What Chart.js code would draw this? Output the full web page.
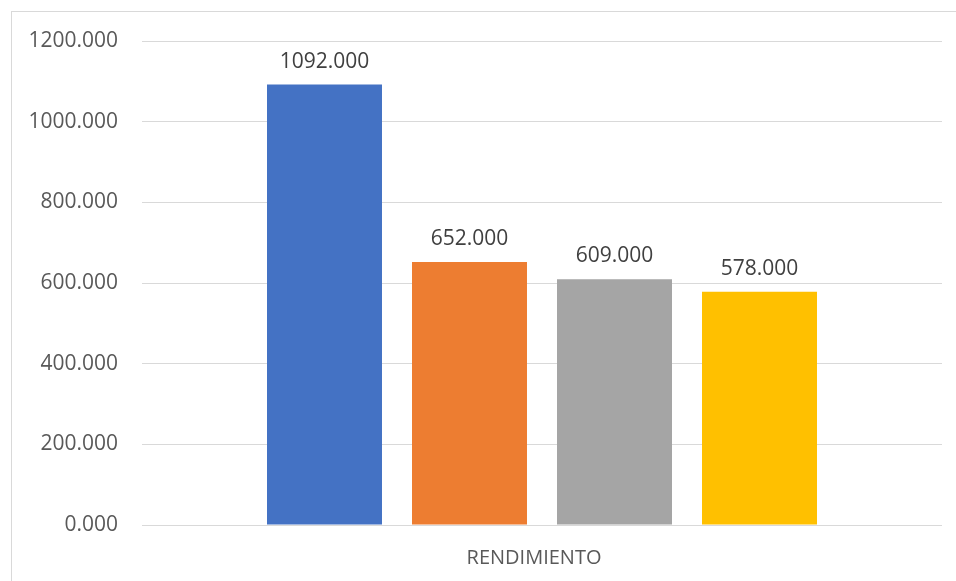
<!DOCTYPE html>
<html>
<head>
<meta charset="utf-8">
<script src="https://cdn.jsdelivr.net/npm/chart.js@4.4.1/dist/chart.umd.min.js"></script>
<style>
    body {
        margin: 0;
        background: #ffffff;
        overflow: hidden;
    }
    .frame {
        position: absolute;
        left: 11px;
        top: 11px;
        width: 980px;
        height: 620px;
        border: 1px solid #d9d9d9;
    }
    #myChart {
        position: absolute;
        left: 0;
        top: 0;
    }
</style>
</head>
<body>
<div class="frame"></div>
<canvas id="myChart" width="956" height="581"></canvas>
<script>
const categories = ["RENDIMIENTO"];
const seriesNames = ["Serie 1", "Serie 2", "Serie 3", "Serie 4"];
const seriesValues = [1092, 652, 609, 578];
const yTicks = [0, 200, 400, 600, 800, 1000, 1200];

const barColors = ['#4472C4', '#ED7D31', '#A5A5A5', '#FFC000'];
const fontName = "'Open Sans', sans-serif";

// value labels above every bar
const valueLabels = {
    id: 'valueLabels',
    afterDatasetsDraw(chart) {
        const ctx = chart.ctx;
        ctx.save();
        ctx.font = "21px " + fontName;
        ctx.fillStyle = '#404040';
        ctx.textAlign = 'center';
        ctx.textBaseline = 'alphabetic';
        chart.data.datasets.forEach((ds, i) => {
            const meta = chart.getDatasetMeta(i);
            meta.data.forEach((bar, j) => {
                ctx.fillText(ds.data[j].toFixed(3), bar.x, bar.y - 17);
            });
        });
        ctx.restore();
    }
};

new Chart("myChart", {
    type: "bar",
    data: {
        labels: categories,
        datasets: seriesNames.map((name, i) => ({
            label: name,
            data: [seriesValues[i]],
            backgroundColor: barColors[i],
            categoryPercentage: 0.725,
            barPercentage: 0.793
        }))
    },
    options: {
        responsive: false,
        animation: false,
        layout: {
            padding: { left: 0, right: 14, top: 41, bottom: 0 }
        },
        plugins: {
            legend: { display: false },
            tooltip: { enabled: false }
        },
        scales: {
            x: {
                grid: { display: false, drawTicks: false },
                border: { display: false },
                ticks: {
                    color: '#595959',
                    font: { family: fontName, size: 20 },
                    padding: 21,
                    labelOffset: -8
                },
                afterFit(scale) {
                    scale.height = 56;
                }
            },
            y: {
                min: yTicks[0],
                max: yTicks[yTicks.length - 1],
                afterBuildTicks(scale) {
                    scale.ticks = yTicks.map(v => ({ value: v }));
                },
                grid: { color: '#d9d9d9', lineWidth: 1, drawTicks: false },
                border: { display: false },
                ticks: {
                    color: '#595959',
                    font: { family: fontName, size: 21 },
                    padding: 24,
                    callback: value => value.toFixed(3)
                },
                afterFit(scale) {
                    scale.width = 142;
                }
            }
        }
    },
    plugins: [valueLabels]
});
</script>
</body>
</html>
